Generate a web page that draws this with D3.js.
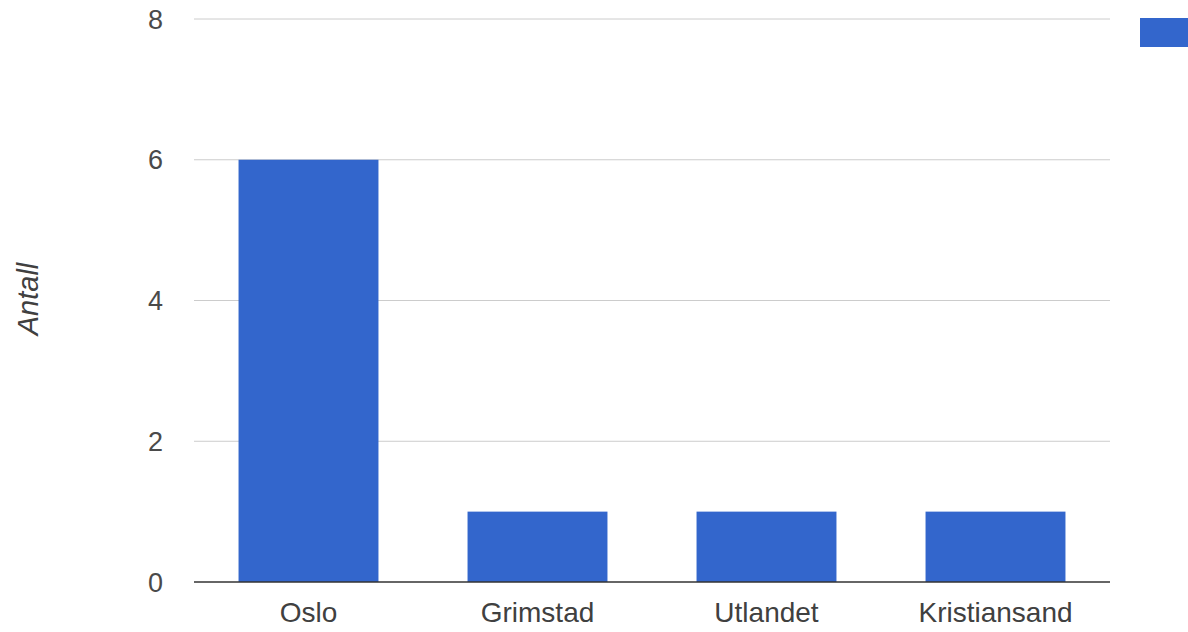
<!DOCTYPE html>
<html><head><meta charset="utf-8">
<script src="https://cdn.jsdelivr.net/npm/d3@7"></script>
<style>body{margin:0;background:#fff}svg{display:block}text{font-family:"Liberation Sans",Arial,sans-serif}</style>
</head><body>
<svg id="c" width="1188" height="632"></svg>
<script>
const categories = ["Oslo", "Grimstad", "Utlandet", "Kristiansand"];
const values = [6, 1, 1, 1];
const yTicks = [0, 2, 4, 6, 8];
const yTitle = "Antall";

const svg = d3.select("#c");
const x = d3.scaleBand().domain(categories).range([194, 1110]).paddingInner(0.389).paddingOuter(0.1945);
const y = d3.scaleLinear().domain([0, 8]).range([582, 19]);

svg.append("g").selectAll("line").data(yTicks.filter(d => d !== 0)).join("line")
  .attr("x1", 194).attr("x2", 1110).attr("y1", d => y(d)).attr("y2", d => y(d))
  .attr("stroke", "#cccccc").attr("stroke-width", 1);

svg.append("g").selectAll("text").data(yTicks).join("text")
  .attr("x", 163).attr("y", d => y(d)).attr("dy", "0.36em").attr("text-anchor", "end")
  .attr("font-size", 27).attr("fill", "#4a4a4a").text(d => d);

svg.append("g").selectAll("rect").data(values).join("rect")
  .attr("x", (d, i) => x(categories[i])).attr("width", x.bandwidth())
  .attr("y", d => y(d)).attr("height", d => y(0) - y(d)).attr("fill", "#3366cc");

svg.append("line").attr("x1", 194).attr("x2", 1110).attr("y1", y(0)).attr("y2", y(0))
  .attr("stroke", "#333").attr("stroke-width", 1.5);

svg.append("g").selectAll("text").data(categories).join("text")
  .attr("x", d => x(d) + x.bandwidth() / 2).attr("y", 622).attr("text-anchor", "middle")
  .attr("font-size", 28).attr("fill", "#404040").text(d => d);

svg.append("text").attr("transform", "translate(38,299) rotate(-90)").attr("text-anchor", "middle")
  .attr("font-size", 29).attr("font-style", "italic").attr("fill", "#404040").text(yTitle);

svg.append("rect").attr("x", 1140).attr("y", 18).attr("width", 60).attr("height", 29).attr("fill", "#3366cc");
</script>
</body></html>
